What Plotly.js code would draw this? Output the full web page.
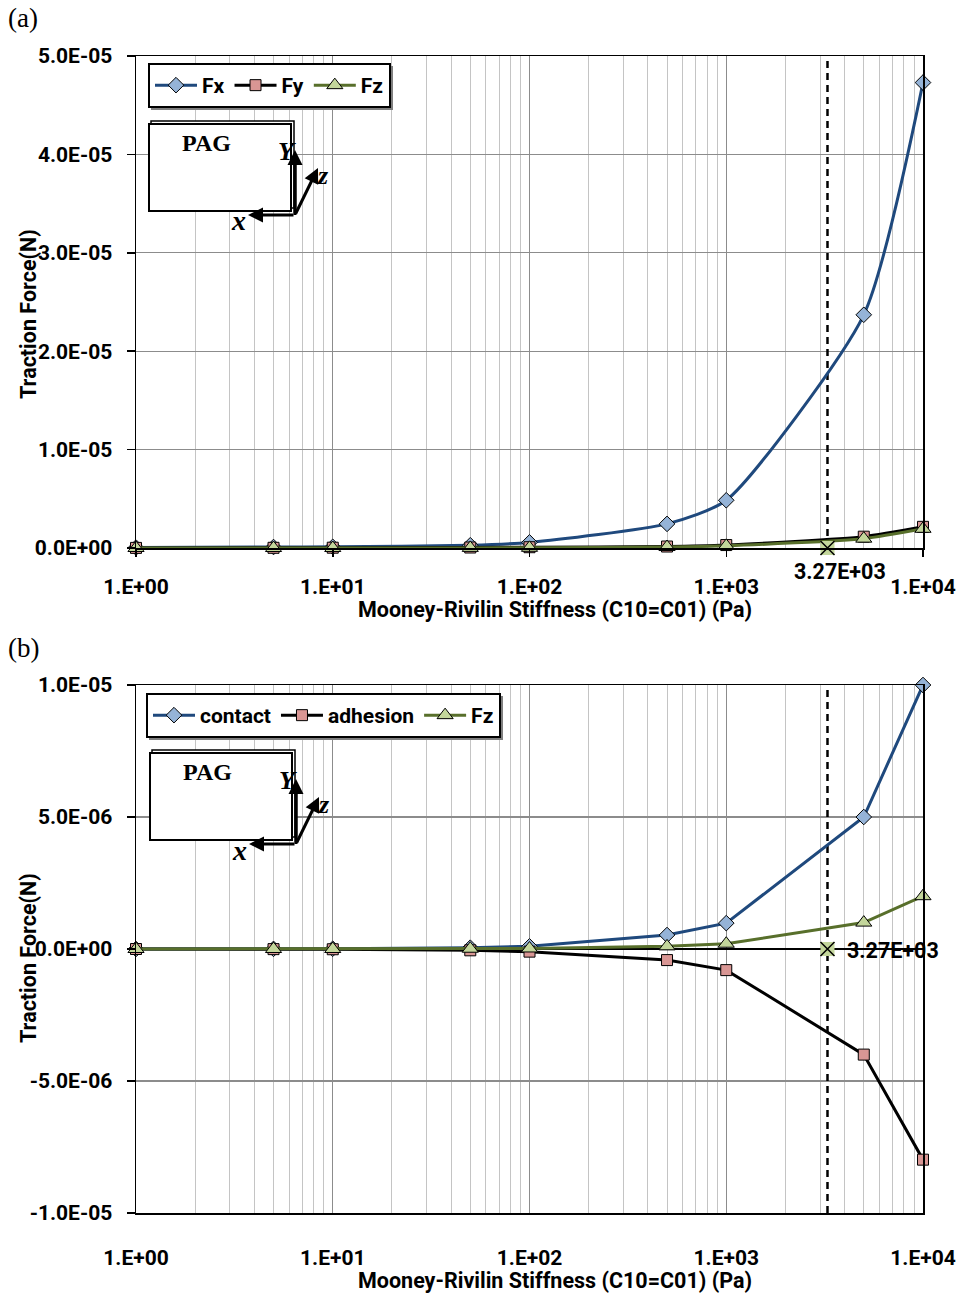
<!DOCTYPE html>
<html><head><meta charset="utf-8">
<script src="https://cdn.plot.ly/plotly-3.0.1.min.js"></script>
<style>html,body{margin:0;padding:0;background:#fff}#chart{width:963px;height:1297px}</style>
</head><body><div id="chart"></div>
<script>
// ---------- data ----------
const stiffness = [1, 5, 10, 50, 100, 500, 1000, 5000, 10000];
// panel (a)
const fxA = [0.05e-6, 0.1e-6, 0.12e-6, 0.28e-6, 0.57e-6, 2.45e-6, 4.85e-6, 23.7e-6, 47.3e-6];
const fyA = [0.01e-6, 0.02e-6, 0.03e-6, 0.05e-6, 0.08e-6, 0.15e-6, 0.3e-6, 1.15e-6, 2.15e-6];
const fzA = [0, 0, 0, 0.01e-6, 0.02e-6, 0.1e-6, 0.22e-6, 0.95e-6, 1.95e-6];
// panel (b)
const contactB = [0, 0.005e-6, 0.01e-6, 0.05e-6, 0.1e-6, 0.53e-6, 0.98e-6, 5.0e-6, 10.0e-6];
const adhesionB = [0, -0.005e-6, -0.01e-6, -0.05e-6, -0.1e-6, -0.42e-6, -0.8e-6, -4.0e-6, -7.98e-6];
const fzB = [0, 0, 0, 0.01e-6, 0.02e-6, 0.1e-6, 0.2e-6, 1.0e-6, 2.0e-6];
// transition stiffness
const transition = 3270;
const transitionLabel = '3.27E+03';
// ticks
const xTickVals = [1, 10, 100, 1000, 10000];
const xTickText = ['1.E+00', '1.E+01', '1.E+02', '1.E+03', '1.E+04'];
const yTickValsA = [0, 1e-5, 2e-5, 3e-5, 4e-5, 5e-5];
const yTickTextA = ['0.0E+00', '1.0E-05', '2.0E-05', '3.0E-05', '4.0E-05', '5.0E-05'];
const yTickValsB = [-1e-5, -5e-6, 0, 5e-6, 1e-5];
const yTickTextB = ['-1.0E-05', '-5.0E-06', '0.0E+00', '5.0E-06', '1.0E-05'];
const xTitle = 'Mooney-Rivilin Stiffness (C10=C01) (Pa)';
const yTitle = 'Traction Force(N)';

// ---------- layout helpers ----------
const W = 963, H = 1297;
const px = v => v / W, py = v => 1 - v / H;
const FONT = 'Roboto, "Liberation Sans", sans-serif';
const SERIF = '"Liberation Serif", "DejaVu Serif", serif';
const BLUE = '#1f497d', BLUEF = '#95b3d7', PINK = '#d99694', GREEN = '#586f2b', GREENF = '#c3d69b';

const minorGrid = [];
for (let d = 1; d < 10000; d *= 10) for (let k = 2; k <= 9; k++) minorGrid.push(k * d);

function lineTrace(y, name, color, sym, size, fill, xa, ya, leg, shape) {
  return {
    x: stiffness, y: y, name: name, type: 'scatter', mode: 'lines+markers',
    xaxis: xa, yaxis: ya, legend: leg, cliponaxis: false,
    line: {color: color, width: 3, shape: shape, smoothing: 0.6},
    marker: {symbol: sym, size: size, color: fill, line: {color: '#000', width: 1}}
  };
}
function dashTrace(ymin, ymax, xa, ya) {
  return {x: [transition, transition], y: [ymin, ymax], xaxis: xa, yaxis: ya, type: 'scatter', mode: 'lines',
    line: {color: '#000', width: 2.5, dash: '7px,5px'}, showlegend: false, hoverinfo: 'skip'};
}
function crossTraces(xa, ya) {
  return [
    {x: [transition], y: [0], xaxis: xa, yaxis: ya, type: 'scatter', mode: 'markers', showlegend: false, cliponaxis: false,
      marker: {symbol: 'square', size: 14, color: GREENF, line: {width: 0}}},
    {x: [transition], y: [0], xaxis: xa, yaxis: ya, type: 'scatter', mode: 'markers', showlegend: false, cliponaxis: false,
      marker: {symbol: 'x-thin-open', size: 14, color: '#000', line: {color: '#000', width: 1.5}}}
  ];
}

const data = [
  dashTrace(0, 5e-5, 'x', 'y'),
  lineTrace(fxA, 'Fx', BLUE, 'diamond', 12, BLUEF, 'x', 'y', 'legend', 'spline'),
  lineTrace(fyA, 'Fy', '#000', 'square', 11, PINK, 'x', 'y', 'legend', 'spline'),
  lineTrace(fzA, 'Fz', GREEN, 'triangle-up', 14, GREENF, 'x', 'y', 'legend', 'spline'),
  ...crossTraces('x', 'y'),
  dashTrace(-1e-5, 1e-5, 'x2', 'y2'),
  lineTrace(contactB, 'contact', BLUE, 'diamond', 12, BLUEF, 'x2', 'y2', 'legend2', 'linear'),
  lineTrace(adhesionB, 'adhesion', '#000', 'square', 11, PINK, 'x2', 'y2', 'legend2', 'linear'),
  lineTrace(fzB, 'Fz', GREEN, 'triangle-up', 14, GREENF, 'x2', 'y2', 'legend2', 'linear'),
  ...crossTraces('x2', 'y2')
];

const tickFont = {family: FONT, size: 21, color: '#000', weight: 'bold'};
function xAxis(anchor, ticks, standoff) {
  return {
    type: 'log', range: [0, 4], domain: [136 / W, 923 / W], anchor: anchor,
    tickmode: 'array', tickvals: xTickVals, ticktext: xTickText,
    showline: true, linecolor: '#000', linewidth: 1.5, mirror: true,
    ticks: ticks, ticklen: 7, tickcolor: '#000', tickwidth: 1.5,
    ticklabelstandoff: standoff,
    showgrid: true, gridcolor: '#8c8c8c', gridwidth: 1.2,
    minor: {tickmode: 'array', tickvals: minorGrid, showgrid: true, gridcolor: '#c4c4c4', gridwidth: 1, ticks: ''},
    tickfont: tickFont, zeroline: false
  };
}
function yAxis(anchor, dom, range, vals, text, zl) {
  return {
    domain: dom, anchor: anchor, range: range, tickmode: 'array', tickvals: vals, ticktext: text,
    showline: true, linecolor: '#000', linewidth: 1.5, mirror: true,
    ticks: 'outside', ticklen: 8, tickcolor: '#000', tickwidth: 1.5, ticklabelstandoff: 10,
    showgrid: true, gridcolor: '#8c8c8c', gridwidth: 1.2,
    zeroline: zl, zerolinecolor: '#000', zerolinewidth: 1.5,
    tickfont: tickFont
  };
}
function legendCfg(x, y) {
  return {x: px(x), y: py(y), xanchor: 'left', yanchor: 'top', orientation: 'h',
    bgcolor: '#fff', bordercolor: '#000', borderwidth: 2,
    font: {family: FONT, size: 21, color: '#000', weight: 'bold'}, itemwidth: 42};
}
// soft drop shadow behind each legend box (legend is drawn above shapes)
function shadow(x0, y0, x1, y1) {
  return {type: 'rect', xref: 'paper', yref: 'paper', x0: px(x0), x1: px(x1), y0: py(y0), y1: py(y1),
    line: {width: 0}, fillcolor: '#7f7f7f', layer: 'above'};
}

function txt(x, y, text, font, extra) {
  return Object.assign({xref: 'paper', yref: 'paper', x: px(x), y: py(y), text: text, showarrow: false,
    xanchor: 'center', yanchor: 'middle', font: font}, extra || {});
}
function arrow(hx, hy, ax, ay) {
  return {xref: 'paper', yref: 'paper', x: px(hx), y: py(hy), ax: ax, ay: ay, text: '', showarrow: true,
    arrowhead: 2, arrowsize: 1, arrowwidth: 3, arrowcolor: '#000'};
}
function inset(dy, dx) {
  const shapes = [
    {type: 'rect', xref: 'paper', yref: 'paper', x0: px(151 + dx), x1: px(294 + dx), y0: py(121 + dy), y1: py(208 + dy),
      line: {color: '#000', width: 1.5}, fillcolor: '#fff', layer: 'above'},
    {type: 'rect', xref: 'paper', yref: 'paper', x0: px(149 + dx), x1: px(291 + dx), y0: py(124 + dy), y1: py(211 + dy),
      line: {color: '#000', width: 2}, fillcolor: '#fff', layer: 'above'},
    {type: 'line', xref: 'paper', yref: 'paper', x0: px(295 + dx), x1: px(295 + dx), y0: py(160 + dy), y1: py(215 + dy),
      line: {color: '#000', width: 3}, layer: 'above'}
  ];
  const serifB = {family: SERIF, size: 24, color: '#000', weight: 'bold'};
  const ann = [
    txt(206 + dx, 143 + dy, 'PAG', serifB),
    arrow(295 + dx, 150 + dy, 0, 65),
    arrow(248 + dx, 215 + dy, 47, 0),
    arrow(318 + dx, 168 + dy, -23, 47),
    txt(287 + dx, 151 + dy, '<i>Y</i>', {family: SERIF, size: 26, color: '#000', weight: 'bold'}),
    txt(238 + dx, 221 + dy, '<i>x</i>', {family: SERIF, size: 28, color: '#000', weight: 'bold'}),
    txt(323 + dx, 175 + dy, '<i>z</i>', {family: SERIF, size: 26, color: '#000', weight: 'bold'})
  ];
  return {shapes, ann};
}
const insA = inset(0, 0), insB = inset(629, 1);

const titleFont = {family: FONT, size: 21.5, color: '#000', weight: 'bold'};
const annotations = [
  txt(6, 18, '(a)', {family: SERIF, size: 27, color: '#000'}, {xanchor: 'left'}),
  txt(6, 648, '(b)', {family: SERIF, size: 27, color: '#000'}, {xanchor: 'left'}),
  txt(555, 610, xTitle, titleFont),
  txt(555, 1280, xTitle, titleFont),
  txt(28, 314, yTitle, titleFont, {textangle: -90}),
  txt(28, 958, yTitle, titleFont, {textangle: -90}),
  {xref: 'x', yref: 'y', x: Math.log10(transition), y: 0, text: transitionLabel, showarrow: false,
    xanchor: 'center', yanchor: 'middle', xshift: 13, yshift: -24, font: titleFont},
  {xref: 'x2', yref: 'y2', x: Math.log10(transition), y: 0, text: transitionLabel, showarrow: false,
    xanchor: 'left', yanchor: 'middle', xshift: 18, yshift: -1, font: titleFont},
  ...insA.ann, ...insB.ann
];

const layout = {
  width: W, height: H, margin: {l: 0, r: 0, t: 0, b: 0},
  paper_bgcolor: '#fff', plot_bgcolor: '#fff', showlegend: true,
  xaxis: xAxis('y', 'outside', 12),
  yaxis: yAxis('x', [(H - 548) / H, (H - 56) / H], [0, 5e-5], yTickValsA, yTickTextA, false),
  xaxis2: xAxis('y2', '', 25),
  yaxis2: yAxis('x2', [(H - 1213) / H, (H - 685) / H], [-1e-5, 1e-5], yTickValsB, yTickTextB, true),
  legend: legendCfg(148, 63),
  legend2: legendCfg(146, 693),
  shapes: [shadow(151, 66, 393, 110), shadow(149, 696, 503, 740), ...insA.shapes, ...insB.shapes],
  annotations: annotations
};

Plotly.newPlot('chart', data, layout, {displayModeBar: false, staticPlot: true});
</script></body></html>
